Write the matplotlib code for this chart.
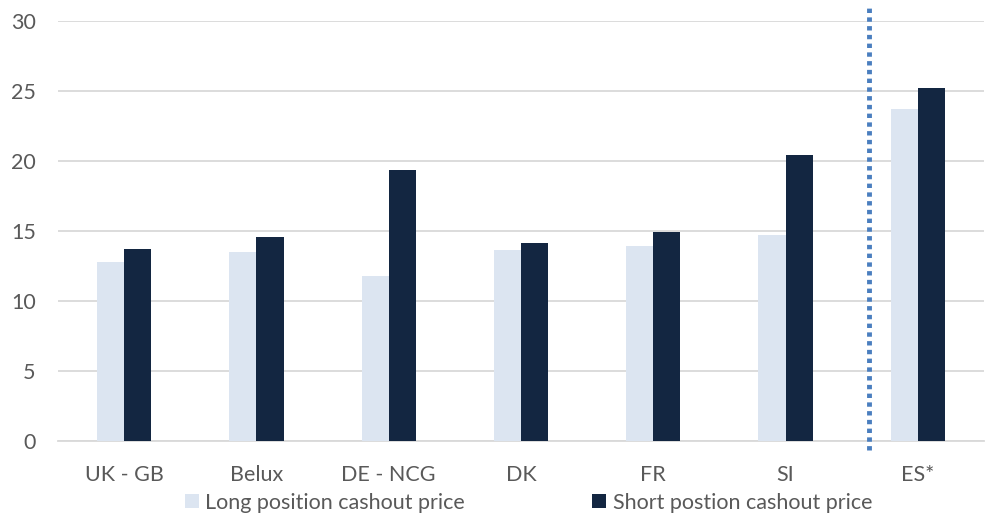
import matplotlib.pyplot as plt
import numpy as np

plt.rcParams['font.family'] = ['Lato', 'DejaVu Sans']

# data
countries = ['UK - GB', 'Belux', 'DE - NCG', 'DK', 'FR', 'SI', 'ES*']
long_price = [12.8, 13.5, 11.8, 13.65, 13.95, 14.7, 23.7]
short_price = [13.7, 14.6, 19.35, 14.15, 14.95, 20.45, 25.25]

light = '#DCE5F1'
dark = '#132641'
grey_txt = '#595959'

fig = plt.figure(figsize=(9.89, 5.19), dpi=100)
ax = fig.add_axes([0.0586, 0.150, 0.9364, 0.8095])

x = np.arange(len(countries))
w = 0.205
ax.bar(x - w / 2, long_price, w, color=light, label='Long position cashout price', zorder=3)
ax.bar(x + w / 2, short_price, w, color=dark, label='Short postion cashout price', zorder=3)

# dotted separator before ES*
ax.plot([5.63, 5.63], [-0.65, 30.9], color='#4A7EBF', lw=3.5, ls=(0, (0.9, 0.9)),
        clip_on=False, zorder=4)

ax.set_xlim(-0.5, len(countries) - 0.5)
ax.set_ylim(0, 30)
ax.set_yticks(np.arange(0, 31, 5))
ax.set_xticks(x)
ax.set_xticklabels(countries)
ax.yaxis.grid(True, color='#D9D9D9', lw=1.3, zorder=0)
ax.set_axisbelow(True)
for s in ['top', 'right', 'left']:
    ax.spines[s].set_visible(False)
ax.spines['bottom'].set_color('#D9D9D9')
ax.spines['bottom'].set_linewidth(1.3)
ax.tick_params(axis='both', length=0, labelsize=15.5, colors=grey_txt)
ax.tick_params(axis='x', pad=17)
ax.tick_params(axis='y', pad=16)
for lab in ax.get_yticklabels():
    lab.set_horizontalalignment('right')

leg = fig.legend(loc='lower center', bbox_to_anchor=(0.5345, -0.025), ncol=2, frameon=False,
                 fontsize=15.5, handlelength=0.65, handleheight=0.65, handletextpad=0.3,
                 columnspacing=5.9, labelcolor=grey_txt)

fig.savefig('out.png', dpi=100)
